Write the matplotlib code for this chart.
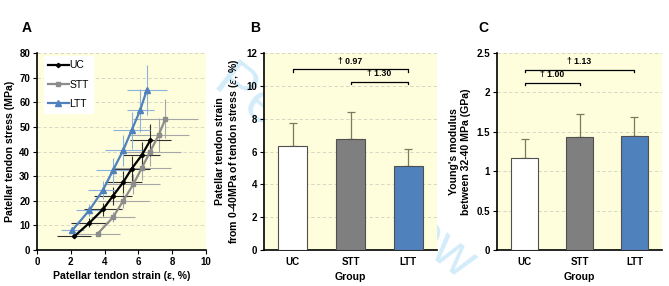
import matplotlib
matplotlib.use('Agg')
import matplotlib.pyplot as plt

plt.rcParams['font.family'] = ['Liberation Sans', 'DejaVu Sans']
plt.rcParams['font.size'] = 7

# ---- panel A data: stress-strain curves (mean, SD)
uc_strain = [2.2, 3.1, 3.9, 4.5, 5.1, 5.6, 6.2, 6.7]
uc_stress = [5.5, 11.0, 16.5, 22.0, 27.5, 33.0, 38.5, 44.5]
uc_xerr = [1.0, 1.1, 1.1, 1.1, 1.1, 1.1, 1.1, 1.2]
uc_yerr = [0.8, 1.8, 2.7, 3.6, 4.5, 5.0, 5.5, 6.5]

stt_strain = [3.6, 4.5, 5.1, 5.7, 6.2, 6.7, 7.2, 7.6]
stt_stress = [6.7, 13.3, 20.0, 26.7, 33.3, 40.0, 46.7, 53.3]
stt_xerr = [1.3, 1.3, 1.5, 1.6, 1.7, 1.8, 1.8, 1.9]
stt_yerr = [1.0, 2.0, 3.0, 4.0, 5.0, 6.0, 7.0, 8.0]

ltt_strain = [2.1, 3.1, 3.9, 4.5, 5.1, 5.6, 6.1, 6.5]
ltt_stress = [8.1, 16.2, 24.3, 32.4, 40.5, 48.6, 56.7, 65.0]
ltt_xerr = [0.7, 0.8, 0.9, 1.0, 1.1, 1.1, 0.8, 1.2]
ltt_yerr = [1.2, 2.5, 3.7, 5.0, 6.2, 7.5, 8.7, 10.0]

# ---- panels B and C data
groups = ['UC', 'STT', 'LTT']
strain_mean = [6.35, 6.75, 5.1]
strain_sd = [1.4, 1.65, 1.05]
modulus_mean = [1.17, 1.43, 1.45]
modulus_sd = [0.24, 0.29, 0.24]

strain_brackets = [(0, 2, 11.0, '† 0.97'), (1, 2, 10.25, '† 1.30')]
modulus_brackets = [(0, 2, 2.29, '† 1.13'), (0, 1, 2.12, '† 1.00')]

bar_colors = ['white', '#7f7f7f', '#4f81bd']
bg = '#fefedc'
W, H = 669, 286

fig = plt.figure(figsize=(W / 100, H / 100), dpi=100)

# watermark, mostly hidden behind the panels
fig.text(0.516, 0.40, 'Peer Review', rotation=-38, fontsize=40,
         color='#d3ecfa', ha='center', va='center', zorder=-5)


def style_axes(ax):
    ax.set_facecolor(bg)
    for s in ['top', 'right']:
        ax.spines[s].set_visible(False)
    for s in ['left', 'bottom']:
        ax.spines[s].set_linewidth(1.2)
    ax.yaxis.grid(True, linestyle=(0, (4, 3)), color='#d0d0c0', linewidth=0.6)
    ax.set_axisbelow(True)
    ax.tick_params(length=3, width=0.8, labelsize=7, pad=2)
    for lab in ax.get_xticklabels() + ax.get_yticklabels():
        lab.set_fontweight('bold')


# ---------- A
axA = fig.add_axes([37 / W, 1 - 250 / H, 169 / W, 197 / H])
axA.errorbar(stt_strain, stt_stress, xerr=stt_xerr, yerr=stt_yerr, fmt='none',
             ecolor='#a6a6a6', elinewidth=0.8, capsize=0, zorder=2)
axA.errorbar(uc_strain, uc_stress, xerr=uc_xerr, yerr=uc_yerr, fmt='none',
             ecolor='#303030', elinewidth=0.8, capsize=0, zorder=2)
axA.errorbar(ltt_strain, ltt_stress, xerr=ltt_xerr, yerr=ltt_yerr, fmt='none',
             ecolor='#8db0dc', elinewidth=0.8, capsize=0, zorder=2)
axA.plot(uc_strain, uc_stress, color='black', lw=1.6, marker='D', ms=2.2,
         label='UC', zorder=4)
axA.plot(stt_strain, stt_stress, color='#8c8c8c', lw=1.6, marker='s', ms=3.5,
         label='STT', zorder=4)
axA.plot(ltt_strain, ltt_stress, color='#4f81bd', lw=1.6, marker='^', ms=3.8,
         label='LTT', zorder=4)
axA.set_xlim(0, 10)
axA.set_ylim(0, 80)
axA.set_xticks(range(0, 11, 2))
axA.set_yticks(range(0, 81, 10))
axA.set_xlabel('Patellar tendon strain (ε, %)', fontweight='bold', fontsize=7.6, labelpad=3)
axA.set_ylabel('Patellar tendon stress (MPa)', fontweight='bold', fontsize=7.6, labelpad=3)
style_axes(axA)
leg = axA.legend(loc='upper left', bbox_to_anchor=(0.02, 1.0), frameon=True,
                 fancybox=False, edgecolor='white', facecolor='white',
                 framealpha=1, fontsize=7.5, handlelength=2.0, handletextpad=0.1,
                 labelspacing=0.9, borderpad=0.4, borderaxespad=0.3)
fig.text(22 / W, 1 - 28 / H, 'A', fontsize=10, fontweight='bold', va='center')


def bar_panel(ax, means, sds, brackets, ylim, yticks, ylabel, ticklabels):
    x = list(range(len(groups)))
    ax.bar(x, means, width=0.5, color=bar_colors, edgecolor='#505050',
           linewidth=0.8, zorder=3)
    ax.errorbar(x, means, yerr=[[0] * len(sds), sds], fmt='none',
                ecolor='#7a7a60', elinewidth=0.9, capsize=3, capthick=0.9, zorder=2)
    tick = (ylim[1] - ylim[0]) * 0.012
    for i, j, yb, txt in brackets:
        ax.plot([i, i, j, j], [yb - tick, yb, yb, yb - tick], color='black',
                lw=0.9, zorder=4)
        ax.text((i + j) / 2, yb + tick * 1.5, txt, ha='center', va='bottom',
                fontsize=6.3, fontweight='bold')
    ax.set_xlim(-0.5, 2.5)
    ax.set_ylim(*ylim)
    ax.set_yticks(yticks)
    ax.set_yticklabels(ticklabels)
    ax.set_xticks(x)
    ax.set_xticklabels(groups)
    ax.set_xlabel('Group', fontweight='bold', fontsize=7.6, labelpad=4)
    ax.set_ylabel(ylabel, fontweight='bold', fontsize=7.6, labelpad=4)
    style_axes(ax)
    ax.tick_params(axis='x', length=0, pad=5)


# ---------- B
axB = fig.add_axes([264 / W, 1 - 250 / H, 173 / W, 197 / H])
bar_panel(axB, strain_mean, strain_sd, strain_brackets, (0, 12),
          range(0, 13, 2),
          'Patellar tendon strain\nfrom 0-40MPa of tendon stress ($\\varepsilon$, %)',
          [str(v) for v in range(0, 13, 2)])
fig.text(250 / W, 1 - 28 / H, 'B', fontsize=10, fontweight='bold', va='center')

# ---------- C
axC = fig.add_axes([497 / W, 1 - 250 / H, 165 / W, 197 / H])
bar_panel(axC, modulus_mean, modulus_sd, modulus_brackets, (0, 2.5),
          [0, 0.5, 1, 1.5, 2, 2.5],
          "Young's modulus\nbetween 32-40 MPa (GPa)",
          ['0', '0.5', '1', '1.5', '2', '2.5'])
fig.text(478 / W, 1 - 28 / H, 'C', fontsize=10, fontweight='bold', va='center')

fig.savefig('out.png', dpi=100)
